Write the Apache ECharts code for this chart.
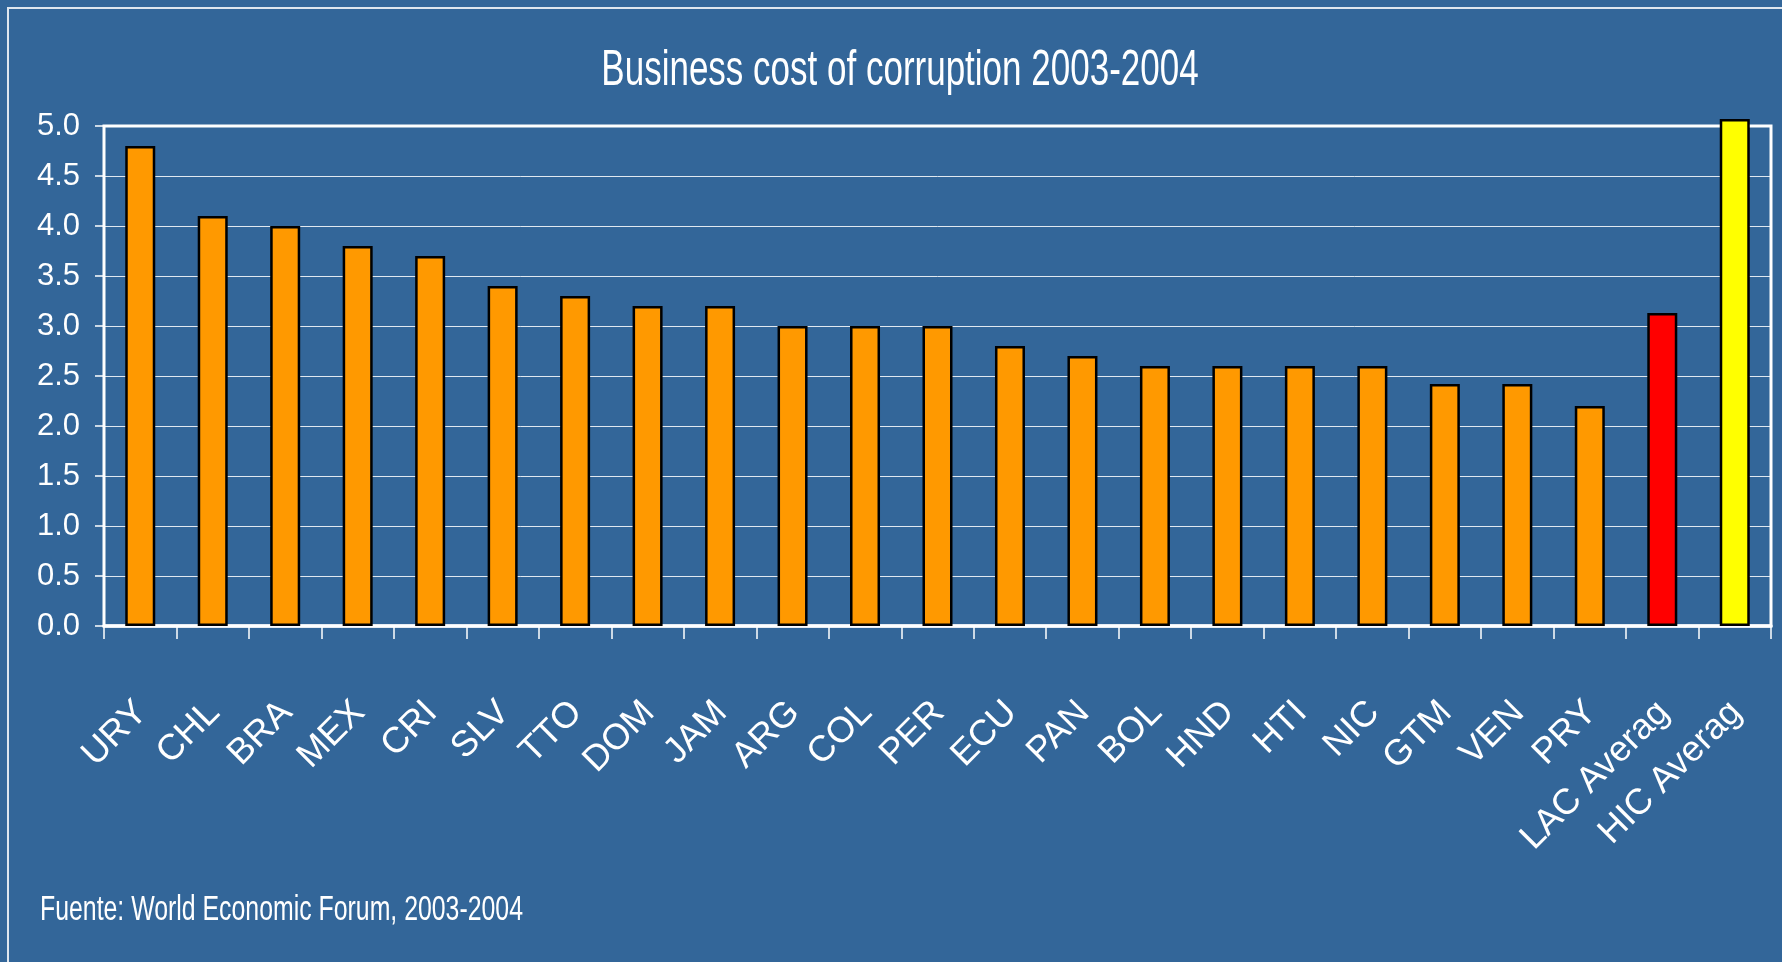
<!DOCTYPE html>
<html>
<head>
<meta charset="utf-8">
<title>Business cost of corruption 2003-2004</title>
<script src="https://cdn.jsdelivr.net/npm/echarts@6/dist/echarts.min.js"></script>
<style>
  html, body { margin: 0; padding: 0; background: #336699; }
  #chart { width: 1782px; height: 962px; }
</style>
</head>
<body>
<div id="chart"></div>
<script>
// data
const countries = ['URY', 'CHL', 'BRA', 'MEX', 'CRI', 'SLV', 'TTO', 'DOM', 'JAM', 'ARG', 'COL', 'PER',
  'ECU', 'PAN', 'BOL', 'HND', 'HTI', 'NIC', 'GTM', 'VEN', 'PRY', 'LAC Average', 'HIC Average'];
const costValues = [4.8, 4.1, 4.0, 3.8, 3.7, 3.4, 3.3, 3.2, 3.2, 3.0, 3.0, 3.0,
  2.8, 2.7, 2.6, 2.6, 2.6, 2.6, 2.42, 2.42, 2.2, 3.13, 5.07];
const yTicks = [0, 0.5, 1.0, 1.5, 2.0, 2.5, 3.0, 3.5, 4.0, 4.5, 5.0];

const titleText = 'Business cost of corruption 2003-2004';
const sourceText = 'Fuente: World Economic Forum, 2003-2004';

const barColor = '#FF9900';
const specialColors = { 'LAC Average': '#FF0000', 'HIC Average': '#FFFF00' };

const chart = echarts.init(document.getElementById('chart'));

const option = {
  backgroundColor: '#336699',
  animation: false,
  grid: {
    left: 104,
    right: 11,
    top: 126,
    bottom: 336,
    show: true,
    borderColor: '#ffffff',
    borderWidth: 3,
    backgroundColor: 'transparent'
  },
  graphic: [
    {
      type: 'rect',
      silent: true,
      shape: { x: 8, y: 8, width: 1800, height: 1000 },
      style: { fill: 'none', stroke: '#dfe6ee', lineWidth: 2 }
    },
    {
      type: 'text',
      x: 900,
      y: 71,
      scaleX: 0.7,
      style: {
        text: titleText,
        fill: '#ffffff',
        font: '50px "Liberation Sans", Arial, sans-serif',
        align: 'center',
        verticalAlign: 'middle'
      }
    },
    {
      type: 'text',
      x: 40,
      y: 910,
      scaleX: 0.71,
      style: {
        text: sourceText,
        fill: '#ffffff',
        font: '35px "Liberation Sans", Arial, sans-serif',
        align: 'left',
        verticalAlign: 'middle'
      }
    }
  ],
  xAxis: {
    type: 'category',
    data: countries,
    boundaryGap: true,
    axisLine: { show: true, lineStyle: { color: '#ffffff', width: 3.5 } },
    axisTick: { show: true, length: 13, lineStyle: { color: '#ffffff', width: 1.5 } },
    axisLabel: {
      interval: 0,
      rotate: 45,
      margin: 57,
      align: 'right',
      verticalAlign: 'top',
      padding: [0, 16, 0, 0],
      color: '#ffffff',
      fontSize: 36,
      fontFamily: '"Liberation Sans", Arial, sans-serif',
      width: 200,
      overflow: 'truncate',
      ellipsis: ''
    },
    splitLine: { show: false }
  },
  yAxis: {
    type: 'value',
    min: yTicks[0],
    max: yTicks[yTicks.length - 1],
    interval: 0.5,
    axisLine: { show: true, lineStyle: { color: '#ffffff', width: 2 } },
    axisTick: { show: true, length: 9, lineStyle: { color: '#ffffff', width: 1.5 } },
    axisLabel: {
      margin: 24,
      color: '#ffffff',
      fontSize: 31,
      fontFamily: '"Liberation Sans", Arial, sans-serif',
      formatter: v => v.toFixed(1)
    },
    splitLine: { show: true, lineStyle: { color: 'rgba(255,255,255,0.85)', width: 1 } }
  },
  series: [{
    type: 'bar',
    barWidth: 30,
    clip: false,
    data: costValues.map((v, i) => ({
      value: v,
      itemStyle: { color: specialColors[countries[i]] || barColor }
    })),
    itemStyle: { borderColor: '#000000', borderWidth: 2.5 }
  }]
};

chart.setOption(option);
</script>
</body>
</html>
